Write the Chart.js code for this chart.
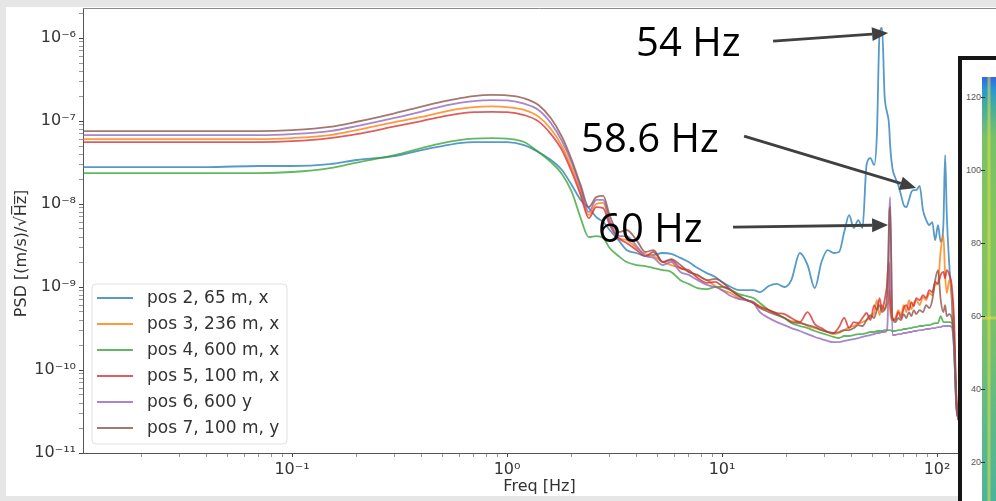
<!DOCTYPE html>
<html>
<head>
<meta charset="utf-8">
<script src="https://cdn.jsdelivr.net/npm/chart.js@4.4.1/dist/chart.umd.min.js"></script>
<style>
  html, body { margin:0; padding:0; width:996px; height:501px; overflow:hidden; background:#e6e6e6; }
  #paper { position:absolute; left:6px; top:7px; width:990px; height:489px; background:#ffffff; }
  #chart { position:absolute; left:0; top:0; width:996px; height:501px; z-index:1; }
  #inset { position:absolute; left:958px; top:56px; width:60px; height:470px; box-sizing:border-box;
           border:4px solid #151515; background:#ffffff; z-index:2; overflow:hidden; }
  #insetImg { position:absolute; left:20px; top:17px; right:0; bottom:0;
    background:
      linear-gradient(to right, rgba(0,0,0,0) 5px, rgba(228,222,70,0.55) 6px, rgba(228,222,70,0.55) 8px, rgba(0,0,0,0) 9px),
      linear-gradient(to bottom, rgba(0,0,0,0) 239px, rgba(230,220,70,0.6) 240px, rgba(230,220,70,0.6) 242px, rgba(0,0,0,0) 243px),
      linear-gradient(to bottom, #3466e2 0px, #2a95d2 12px, #45ad9e 30px, #78c168 60px, #84c45e 150px, #7bc06a 250px, #62ba84 330px, #4cb49a 420px); }
  .itk { position:absolute; left:0; width:19px; text-align:right; font:9px "Liberation Sans", Arial, sans-serif; color:#555; line-height:10px; }
  .itm { position:absolute; left:19px; width:4px; height:1px; background:#333; }
</style>
</head>
<body>
<div id="paper"></div>
<canvas id="chart" width="996" height="501"></canvas>
<div id="inset"><div id="insetImg"></div></div>
<script>
// ---------------- data ----------------
const freqs = [0.0107, 0.02, 0.04, 0.07, 0.1, 0.15, 0.2, 0.3, 0.4, 0.5, 0.6, 0.7, 0.85, 1.0, 1.2, 1.4, 1.6, 1.8, 2.0,
  2.2, 2.4, 2.6, 2.8, 3.0, 3.3, 3.6, 4.0, 4.4, 4.8, 5.3, 5.8, 6.4, 7, 7.7, 8.5, 9.3, 10, 11, 12, 13, 14, 15, 16.5,
  18, 19.5, 21, 23, 25, 27, 29, 31, 33, 35, 37, 39, 41, 43, 45, 47, 49, 51, 52.5, 54, 55.5, 57, 58.5, 59.5, 60, 60.5,
  62, 64, 66, 68, 70, 72, 74, 76, 78, 80, 83, 86, 89, 92, 95, 98, 101, 104, 107, 109, 111, 114, 117, 120, 123, 126];

const pos2 = [2.79e-8, 2.79e-8, 2.79e-8, 2.87e-8, 2.87e-8, 3.03e-8, 3.39e-8, 3.78e-8, 4.47e-8, 4.99e-8, 5.42e-8, 5.58e-8, 5.58e-8, 5.58e-8, 5.13e-8, 4.23e-8, 3.39e-8, 2.57e-8, 1.69e-8,
  1.12e-8, 8.93e-9, 6.96e-9, 6.06e-9, 4.86e-9, 3.68e-9, 2.79e-9, 2.57e-9, 2.36e-9, 2.43e-9, 2.57e-9, 2.50e-9, 2.24e-9, 2.0e-9, 1.69e-9, 1.47e-9, 1.32e-9, 1.15e-9, 1.0e-9, 9.18e-10, 9.18e-10, 9.18e-10, 8.69e-10, 1.03e-9,
  1.09e-9, 1.0e-9, 1.21e-9, 2.57e-9, 1.84e-9, 9.70e-10, 2.0e-9, 2.79e-9, 2.57e-9, 2.64e-9, 4.59e-9, 7.36e-9, 5.13e-9, 6.41e-9, 5.13e-9, 2.95e-8, 3.58e-8, 2.95e-8, 6.77e-8, 1.09e-6, 1.32e-6, 2.06e-7, 1.28e-7, 1.03e-7, 7.78e-8, 5.13e-8,
  2.71e-8, 2.06e-8, 1.69e-8, 1.28e-8, 9.70e-9, 9.18e-9, 1.12e-8, 1.40e-8, 1.47e-8, 1.47e-8, 1.65e-8, 8.45e-9, 6.41e-9, 5.58e-9, 6.06e-9, 3.68e-9, 5.58e-9, 3.50e-9, 5.58e-9, 3.89e-8, 7.36e-9, 1.84e-9, 6.96e-10, 1.74e-10, 3.78e-11, 2.50e-11];

const pos3 = [6.06e-8, 6.06e-8, 6.06e-8, 6.06e-8, 6.23e-8, 6.77e-8, 7.78e-8, 9.70e-8, 1.12e-7, 1.28e-7, 1.40e-7, 1.47e-7, 1.50e-7, 1.47e-7, 1.36e-7, 1.13e-7, 8.0e-8, 4.99e-8, 2.71e-8,
  1.40e-8, 7.36e-9, 1.0e-8, 1.03e-8, 6.06e-9, 3.89e-9, 3.68e-9, 2.95e-9, 2.50e-9, 2.36e-9, 2.0e-9, 1.84e-9, 1.69e-9, 1.52e-9, 1.36e-9, 1.21e-9, 1.03e-9, 9.18e-10, 8.45e-10, 7.36e-10, 6.96e-10, 6.41e-10, 5.89e-10, 5.28e-10,
  4.72e-10, 4.23e-10, 3.89e-10, 3.78e-10, 3.39e-10, 3.20e-10, 3.03e-10, 2.87e-10, 2.71e-10, 2.79e-10, 3.03e-10, 3.29e-10, 3.39e-10, 3.58e-10, 3.78e-10, 4.0e-10, 4.35e-10, 4.85e-10, 6.96e-10, 4.59e-10, 6.06e-10, 5.28e-10, 6.06e-10, 6.96e-10, 9.18e-10, 5.28e-10,
  4.0e-10, 4.23e-10, 5.28e-10, 4.59e-10, 6.06e-10, 4.99e-10, 6.96e-10, 5.42e-10, 6.41e-10, 6.96e-10, 6.06e-10, 7.56e-10, 6.96e-10, 8.45e-10, 7.99e-10, 1.06e-9, 1.12e-9, 2.79e-9, 4.23e-9, 1.40e-9, 8.45e-10, 1.21e-9, 8.69e-10, 3.03e-10, 4.35e-11, 2.50e-11];

const pos4 = [2.36e-8, 2.36e-8, 2.36e-8, 2.36e-8, 2.43e-8, 2.71e-8, 3.16e-8, 3.89e-8, 4.72e-8, 5.42e-8, 5.89e-8, 6.14e-8, 6.23e-8, 6.14e-8, 5.58e-8, 4.23e-8, 3.20e-8, 2.30e-8, 1.40e-8,
  6.77e-9, 4.0e-9, 4.11e-9, 3.89e-9, 2.95e-9, 2.36e-9, 2.0e-9, 1.84e-9, 1.79e-9, 1.69e-9, 1.60e-9, 1.52e-9, 1.21e-9, 1.09e-9, 9.70e-10, 9.44e-10, 1.0e-9, 1.0e-9, 9.18e-10, 8.22e-10, 7.78e-10, 7.36e-10, 6.41e-10, 5.28e-10,
  4.72e-10, 4.23e-10, 3.68e-10, 3.39e-10, 3.20e-10, 2.95e-10, 2.79e-10, 2.64e-10, 2.50e-10, 2.43e-10, 2.57e-10, 2.57e-10, 2.64e-10, 2.71e-10, 2.71e-10, 2.79e-10, 2.87e-10, 2.87e-10, 2.95e-10, 2.95e-10, 2.95e-10, 3.03e-10, 3.03e-10, 3.03e-10, 3.03e-10, 3.03e-10,
  2.95e-10, 2.95e-10, 3.03e-10, 3.03e-10, 3.12e-10, 3.12e-10, 3.20e-10, 3.20e-10, 3.29e-10, 3.29e-10, 3.39e-10, 3.39e-10, 3.48e-10, 3.48e-10, 3.58e-10, 3.68e-10, 3.68e-10, 4.47e-10, 3.78e-10, 3.78e-10, 3.78e-10, 3.78e-10, 3.68e-10, 2.0e-10, 3.78e-11, 2.50e-11];

const pos5 = [5.58e-8, 5.58e-8, 5.58e-8, 5.58e-8, 5.73e-8, 6.23e-8, 6.96e-8, 8.6e-8, 1.0e-7, 1.13e-7, 1.23e-7, 1.28e-7, 1.29e-7, 1.28e-7, 1.18e-7, 9.9e-8, 6.96e-8, 4.47e-8, 2.43e-8,
  1.28e-8, 6.77e-9, 9.18e-9, 8.93e-9, 5.58e-9, 3.89e-9, 3.39e-9, 2.79e-9, 2.36e-9, 2.64e-9, 2.0e-9, 2.11e-9, 1.69e-9, 1.60e-9, 1.28e-9, 1.12e-9, 1.15e-9, 1.03e-9, 9.18e-10, 7.78e-10, 6.96e-10, 6.59e-10, 5.73e-10, 5.28e-10,
  4.86e-10, 4.72e-10, 4.23e-10, 3.78e-10, 4.99e-10, 3.58e-10, 3.20e-10, 2.87e-10, 2.79e-10, 3.29e-10, 4.23e-10, 3.20e-10, 3.78e-10, 3.68e-10, 4.23e-10, 4.86e-10, 4.0e-10, 6.06e-10, 5.28e-10, 7.36e-10, 5.28e-10, 6.96e-10, 1.06e-9, 2.0e-9, 1.60e-9, 6.96e-10,
  4.23e-10, 4.0e-10, 4.99e-10, 4.23e-10, 5.58e-10, 6.06e-10, 5.28e-10, 6.59e-10, 5.89e-10, 7.36e-10, 6.96e-10, 7.99e-10, 7.36e-10, 9.18e-10, 8.69e-10, 1.15e-9, 1.09e-9, 1.40e-9, 1.52e-9, 1.28e-9, 1.60e-9, 1.40e-9, 1.06e-9, 4.0e-10, 4.99e-11, 2.50e-11];

const pos6 = [6.77e-8, 6.77e-8, 6.77e-8, 6.77e-8, 6.96e-8, 7.56e-8, 8.69e-8, 1.09e-7, 1.30e-7, 1.50e-7, 1.65e-7, 1.74e-7, 1.79e-7, 1.77e-7, 1.62e-7, 1.36e-7, 9.44e-8, 5.73e-8, 3.12e-8,
  1.56e-8, 8.0e-9, 1.12e-8, 1.12e-8, 6.41e-9, 4.11e-9, 4.11e-9, 3.12e-9, 2.36e-9, 2.24e-9, 1.84e-9, 2.0e-9, 1.52e-9, 1.40e-9, 1.21e-9, 1.06e-9, 1.0e-9, 9.18e-10, 7.78e-10, 7.16e-10, 6.96e-10, 6.41e-10, 4.99e-10, 4.23e-10,
  3.78e-10, 3.48e-10, 3.20e-10, 2.95e-10, 2.71e-10, 2.50e-10, 2.36e-10, 2.24e-10, 2.17e-10, 2.17e-10, 2.24e-10, 2.30e-10, 2.36e-10, 2.43e-10, 2.50e-10, 2.57e-10, 2.64e-10, 2.71e-10, 2.79e-10, 2.79e-10, 2.87e-10, 2.87e-10, 3.03e-10, 1.21e-9, 7.36e-9, 1.21e-8,
  2.64e-10, 2.64e-10, 2.71e-10, 2.71e-10, 2.79e-10, 2.79e-10, 2.87e-10, 2.87e-10, 2.95e-10, 2.95e-10, 3.03e-10, 3.03e-10, 3.12e-10, 3.12e-10, 3.20e-10, 3.20e-10, 3.29e-10, 3.29e-10, 3.39e-10, 3.39e-10, 3.39e-10, 3.39e-10, 3.29e-10, 1.74e-10, 3.48e-11, 2.50e-11];

const pos7 = [7.56e-8, 7.56e-8, 7.56e-8, 7.56e-8, 7.78e-8, 8.5e-8, 9.8e-8, 1.24e-7, 1.49e-7, 1.71e-7, 1.88e-7, 2.0e-7, 2.06e-7, 2.04e-7, 1.88e-7, 1.56e-7, 1.08e-7, 6.46e-8, 3.39e-8,
  1.69e-8, 9.18e-9, 1.21e-8, 1.25e-8, 7.36e-9, 4.59e-9, 4.86e-9, 3.68e-9, 2.64e-9, 2.79e-9, 2.0e-9, 2.17e-9, 1.84e-9, 1.52e-9, 1.40e-9, 1.21e-9, 1.25e-9, 1.15e-9, 9.18e-10, 7.78e-10, 6.96e-10, 6.41e-10, 5.58e-10, 4.99e-10,
  4.59e-10, 4.23e-10, 3.78e-10, 3.68e-10, 3.48e-10, 3.29e-10, 3.03e-10, 2.87e-10, 2.79e-10, 2.87e-10, 3.03e-10, 3.03e-10, 3.20e-10, 3.48e-10, 3.39e-10, 4.0e-10, 4.59e-10, 4.23e-10, 5.28e-10, 6.06e-10, 4.99e-10, 5.42e-10, 8.0e-10, 3.68e-9, 8.0e-9, 9.18e-9,
  4.23e-10, 3.78e-10, 4.23e-10, 4.0e-10, 4.72e-10, 4.23e-10, 4.99e-10, 4.47e-10, 5.28e-10, 4.72e-10, 5.28e-10, 4.99e-10, 6.06e-10, 5.58e-10, 6.96e-10, 1.21e-9, 1.60e-9, 6.96e-10, 4.99e-10, 6.06e-10, 4.47e-10, 4.72e-10, 4.23e-10, 2.30e-10, 3.78e-11, 2.50e-11];

const seriesNames = ['pos 2, 65 m, x', 'pos 3, 236 m, x', 'pos 4, 600 m, x', 'pos 5, 100 m, x', 'pos 6, 600 y', 'pos 7, 100 m, y'];
const seriesValues = [pos2, pos3, pos4, pos5, pos6, pos7];
const seriesColors = ['rgba(31,119,180,0.75)', 'rgba(255,127,14,0.8)', 'rgba(44,160,44,0.75)',
                      'rgba(214,39,40,0.75)', 'rgba(148,103,189,0.8)', 'rgba(140,86,75,0.8)'];

const xMajorTicks = [0.1, 1, 10, 100];
const yMajorTicks = [1e-11, 1e-10, 1e-9, 1e-8, 1e-7, 1e-6];
const minorMantissas = [2, 3, 4, 5, 6, 7, 8, 9];
const xLimits = [0.01066, 188];
const yLimits = [1e-11, 2.3e-6];

const xTitle = 'Freq [Hz]';
const yTitle = 'PSD [(m/s)/\u221AH\u0305z\u0305]';

const insetTicks = ['120', '100', '80', '60', '40', '20'];

const annotations = [
  { text: '54 Hz',   at: [3.98, 6.07e-7], from: [17.27, 9.2e-7],  to: [59.2, 1.149e-6] },
  { text: '58.6 Hz', at: [2.21, 4.23e-8], from: [12.66, 6.59e-8], to: [79.9, 1.56e-8] },
  { text: '60 Hz',   at: [2.65, 3.49e-9], from: [11.25, 5.28e-9], to: [59.2, 5.58e-9] }
];

// ---------------- helpers ----------------
const SUP = {'-':'\u207B','0':'\u2070','1':'\u00B9','2':'\u00B2','3':'\u00B3','4':'\u2074','5':'\u2075','6':'\u2076','7':'\u2077','8':'\u2078','9':'\u2079'};
function powLabel(v) {
  const e = Math.round(Math.log10(v));
  return '10' + String(e).split('').map(c => SUP[c]).join('');
}
function isMajor(v, majors) {
  return majors.some(m => Math.abs(Math.log10(v) - Math.log10(m)) < 1e-6);
}
function logTicks(majors, lim) {
  const out = [];
  const ext = [majors[0] / 10].concat(majors);
  ext.forEach(d => {
    [1].concat(minorMantissas).forEach(m => {
      const v = m * d;
      if (v >= lim[0] * 0.999999 && v <= lim[1] * 1.000001) out.push({ value: v });
    });
  });
  return out;
}

// ---------------- plugins ----------------
const framePlugin = {
  id: 'frame',
  beforeDatasetsDraw(chart) {
    const { ctx, chartArea } = chart;
    ctx.save();
    ctx.strokeStyle = '#8a8a8a';
    ctx.lineWidth = 1;
    ctx.beginPath();
    ctx.moveTo(chartArea.left, chartArea.top + 0.5);
    ctx.lineTo(chartArea.right, chartArea.top + 0.5);
    ctx.stroke();
    ctx.restore();
  }
};

const legendPlugin = {
  id: 'psdLegend',
  afterDatasetsDraw(chart) {
    const { ctx, chartArea } = chart;
    const ds = chart.data.datasets;
    const rowH = 26, w = 195, h = 160;
    const x0 = chartArea.left + 9, y1 = chartArea.bottom - 9, y0 = y1 - h;
    ctx.save();
    const r = 4;
    ctx.beginPath();
    ctx.moveTo(x0 + r, y0);
    ctx.lineTo(x0 + w - r, y0); ctx.quadraticCurveTo(x0 + w, y0, x0 + w, y0 + r);
    ctx.lineTo(x0 + w, y1 - r); ctx.quadraticCurveTo(x0 + w, y1, x0 + w - r, y1);
    ctx.lineTo(x0 + r, y1); ctx.quadraticCurveTo(x0, y1, x0, y1 - r);
    ctx.lineTo(x0, y0 + r); ctx.quadraticCurveTo(x0, y0, x0 + r, y0);
    ctx.closePath();
    ctx.fillStyle = 'rgba(255,255,255,0.85)';
    ctx.fill();
    ctx.strokeStyle = '#e0e0e0';
    ctx.lineWidth = 1;
    ctx.stroke();
    ctx.font = '17px "DejaVu Sans"';
    ctx.textBaseline = 'middle';
    ds.forEach((d, i) => {
      const cy = y0 + 14 + i * rowH;
      ctx.strokeStyle = d.borderColor;
      ctx.lineWidth = 2;
      ctx.beginPath();
      ctx.moveTo(x0 + 5, cy);
      ctx.lineTo(x0 + 41, cy);
      ctx.stroke();
      ctx.fillStyle = '#333';
      ctx.fillText(d.label, x0 + 55, cy + 1);
    });
    ctx.restore();
  }
};

const annotationPlugin = {
  id: 'arrowNotes',
  afterDraw(chart) {
    const { ctx } = chart;
    const xs = chart.scales.x, ys = chart.scales.y;
    const P = p => [xs.getPixelForValue(p[0]), ys.getPixelForValue(p[1])];
    ctx.save();
    annotations.forEach(a => {
      const t = P(a.at);
      ctx.font = '40px "Open Sans"';
      ctx.fillStyle = '#000';
      ctx.textBaseline = 'alphabetic';
      ctx.textAlign = 'left';
      ctx.fillText(a.text, t[0], t[1]);
      const f = P(a.from), e = P(a.to);
      const ang = Math.atan2(e[1] - f[1], e[0] - f[0]);
      const hl = 16, hw = 7;
      const bx = e[0] - hl * Math.cos(ang), by = e[1] - hl * Math.sin(ang);
      ctx.strokeStyle = '#404040';
      ctx.fillStyle = '#404040';
      ctx.lineWidth = 2.8;
      ctx.beginPath();
      ctx.moveTo(f[0], f[1]);
      ctx.lineTo(bx, by);
      ctx.stroke();
      ctx.beginPath();
      ctx.moveTo(e[0], e[1]);
      ctx.lineTo(bx + hw * Math.sin(ang), by - hw * Math.cos(ang));
      ctx.lineTo(bx - hw * Math.sin(ang), by + hw * Math.cos(ang));
      ctx.closePath();
      ctx.fill();
    });
    ctx.restore();
  }
};

// ---------------- chart ----------------
const datasets = seriesValues.map((vals, i) => ({
  label: seriesNames[i],
  data: freqs.map((f, j) => ({ x: f, y: vals[j] })),
  borderColor: seriesColors[i],
  borderWidth: 1.8,
  pointRadius: 0,
  fill: false,
  cubicInterpolationMode: 'monotone',
  order: seriesValues.length - i
}));

function axisCommon(majors) {
  return {
    type: 'logarithmic',
    border: { display: true, color: '#555', width: 1 },
    grid: {
      display: true, drawOnChartArea: false, drawTicks: true, tickLength: 4,
      tickColor: c => (c.tick && isMajor(c.tick.value, majors)) ? '#444' : '#999',
      tickWidth: 1
    },
    ticks: {
      autoSkip: false, maxRotation: 0, padding: 3, color: '#333',
      font: { family: 'DejaVu Sans', size: 16 },
      callback: v => isMajor(v, majors) ? powLabel(v) : ''
    }
  };
}

const xAxis = Object.assign(axisCommon(xMajorTicks), {
  position: 'bottom', min: xLimits[0], max: xLimits[1],
  afterBuildTicks: s => { s.ticks = logTicks(xMajorTicks, xLimits); },
  afterFit: s => { s.height = 43; s.paddingLeft = 0; s.paddingRight = 0; },
  title: { display: true, text: xTitle, color: '#333', font: { family: 'DejaVu Sans', size: 16 }, padding: 0 }
});
// trailing no-break spaces move the centred (rotated) label down, as in the picture
const yAxis = Object.assign(axisCommon(yMajorTicks), {
  position: 'left', min: yLimits[0], max: yLimits[1],
  afterBuildTicks: s => { s.ticks = logTicks(yMajorTicks, yLimits); },
  afterFit: s => { s.width = 77; s.paddingTop = 0; s.paddingBottom = 0; },
  title: { display: true, text: yTitle + '\u00A0'.repeat(9), color: '#333', font: { family: 'DejaVu Sans', size: 16 }, padding: { top: 6, bottom: 0 } }
});

Chart.defaults.font.family = 'DejaVu Sans';
new Chart(document.getElementById('chart'), {
  type: 'line',
  data: { datasets },
  options: {
    responsive: false,
    animation: false,
    devicePixelRatio: 1,
    layout: { padding: { left: 6, top: 8, right: 0, bottom: 5 } },
    plugins: { legend: { display: false }, tooltip: { enabled: false } },
    scales: { x: xAxis, y: yAxis }
  },
  plugins: [framePlugin, legendPlugin, annotationPlugin]
});

// ---------------- inset tick labels ----------------
const inset = document.getElementById('inset');
insetTicks.forEach((t, i) => {
  const y = 37 + i * 73;
  const lab = document.createElement('div');
  lab.className = 'itk'; lab.textContent = t; lab.style.top = (y - 5) + 'px';
  inset.appendChild(lab);
  const tm = document.createElement('div');
  tm.className = 'itm'; tm.style.top = y + 'px';
  inset.appendChild(tm);
});
</script>
</body>
</html>
